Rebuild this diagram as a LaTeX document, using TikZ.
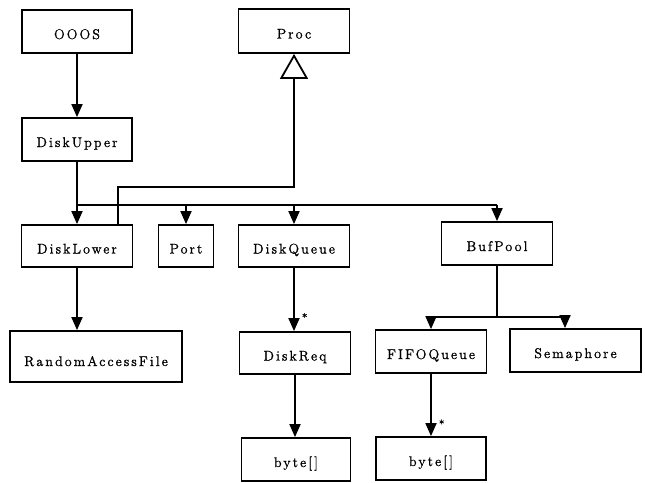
\documentclass[tikz,border=0pt]{standalone}
\usepackage{fontspec}
\setmainfont{Latin Modern Roman}[LetterSpace=15,FakeBold=1.2]
\usetikzlibrary{arrows.meta}
\tikzset{
  box/.style={draw, line width=1.8pt, inner sep=0pt, text height=15pt, text depth=0pt,
    font=\fontsize{14}{16}\selectfont},
  conn/.style={line width=1.8pt},
  arr/.style={conn, -{Triangle[length=13pt,width=11pt]}},
  inh/.style={conn, -{Triangle[open,length=25pt,width=28pt,fill=white]}},
  mult/.style={inner sep=0pt, font=\fontsize{11}{12}\selectfont}
}
\begin{document}
\begin{tikzpicture}[x=1pt,y=-1pt]
\useasboundingbox (0,0) rectangle (645,482);
\node[box, minimum width=110pt, minimum height=43pt] (ooos) at (77,31.5) {OOOS};
\node[box, minimum width=111pt, minimum height=44pt] (proc) at (294,31) {Proc};
\node[box, minimum width=110pt, minimum height=43pt] (dupper) at (77,139.5) {DiskUpper};
\node[box, minimum width=111pt, minimum height=42pt] (dlower) at (77,246) {DiskLower};
\node[box, minimum width=55pt, minimum height=42pt] (port) at (186,246) {Port};
\node[box, minimum width=111pt, minimum height=42pt] (dqueue) at (294,246) {DiskQueue};
\node[box, minimum width=111pt, minimum height=43pt] (bufpool) at (497,243.5) {BufPool};
\node[box, minimum width=172pt, minimum height=51pt, text height=19pt] (raf) at (96,356.5) {RandomAccessFile};
\node[box, minimum width=111pt, minimum height=42pt] (dreq) at (295,353) {DiskReq};
\node[box, minimum width=109pt, minimum height=43pt] (byteA) at (296,459.5) {byte[]};
\node[box, minimum width=111pt, minimum height=43pt] (fifo) at (431,351.5) {FIFOQueue};
\node[box, minimum width=131pt, minimum height=43pt] (sema) at (575.5,350.5) {Semaphore};
\node[box, minimum width=110pt, minimum height=43pt] (byteB) at (431,458.5) {byte[]};
% coordinates
\coordinate (busL) at (77,205);
\coordinate (busR) at (497,205);
\coordinate (inhL) at (118,187);
\coordinate (bpJ) at (497,317);
\coordinate (semaIn) at (565,317);
% OOOS -> DiskUpper
\draw[arr] (ooos.south) -- (dupper.north);
% bus
\draw[conn] (dupper.south) -- (busL) -- (busR);
\draw[arr] (busL) -- (dlower.north);
\draw[arr] (port.north |- busL) -- (port.north);
\draw[arr] (dqueue.north |- busL) -- (dqueue.north);
\draw[arr] (busR) -- (bufpool.north);
% inheritance
\draw[inh] (inhL |- dlower.north) -- (inhL) -- (inhL -| proc.south) -- (proc.south);
% DiskLower -> RAF
\draw[arr] (dlower.south) -- (dlower.south |- raf.north);
% DiskQueue -> DiskReq
\draw[arr] (dqueue.south) -- (dqueue.south |- dreq.north) node[mult, pos=0.78, right=7pt] {*};
% DiskReq -> byte
\draw[arr] (dreq.south) -- (dreq.south |- byteA.north);
% BufPool
\draw[conn] (bufpool.south) -- (bpJ);
\draw[conn] (fifo.north |- bpJ) -- (semaIn);
\draw[arr] (fifo.north |- bpJ) -- (fifo.north);
\draw[arr] (semaIn) -- (semaIn |- sema.north);
% FIFO -> byte
\draw[arr] (fifo.south) -- (fifo.south |- byteB.north) node[mult, pos=0.8, right=7pt] {*};
\end{tikzpicture}
\end{document}
